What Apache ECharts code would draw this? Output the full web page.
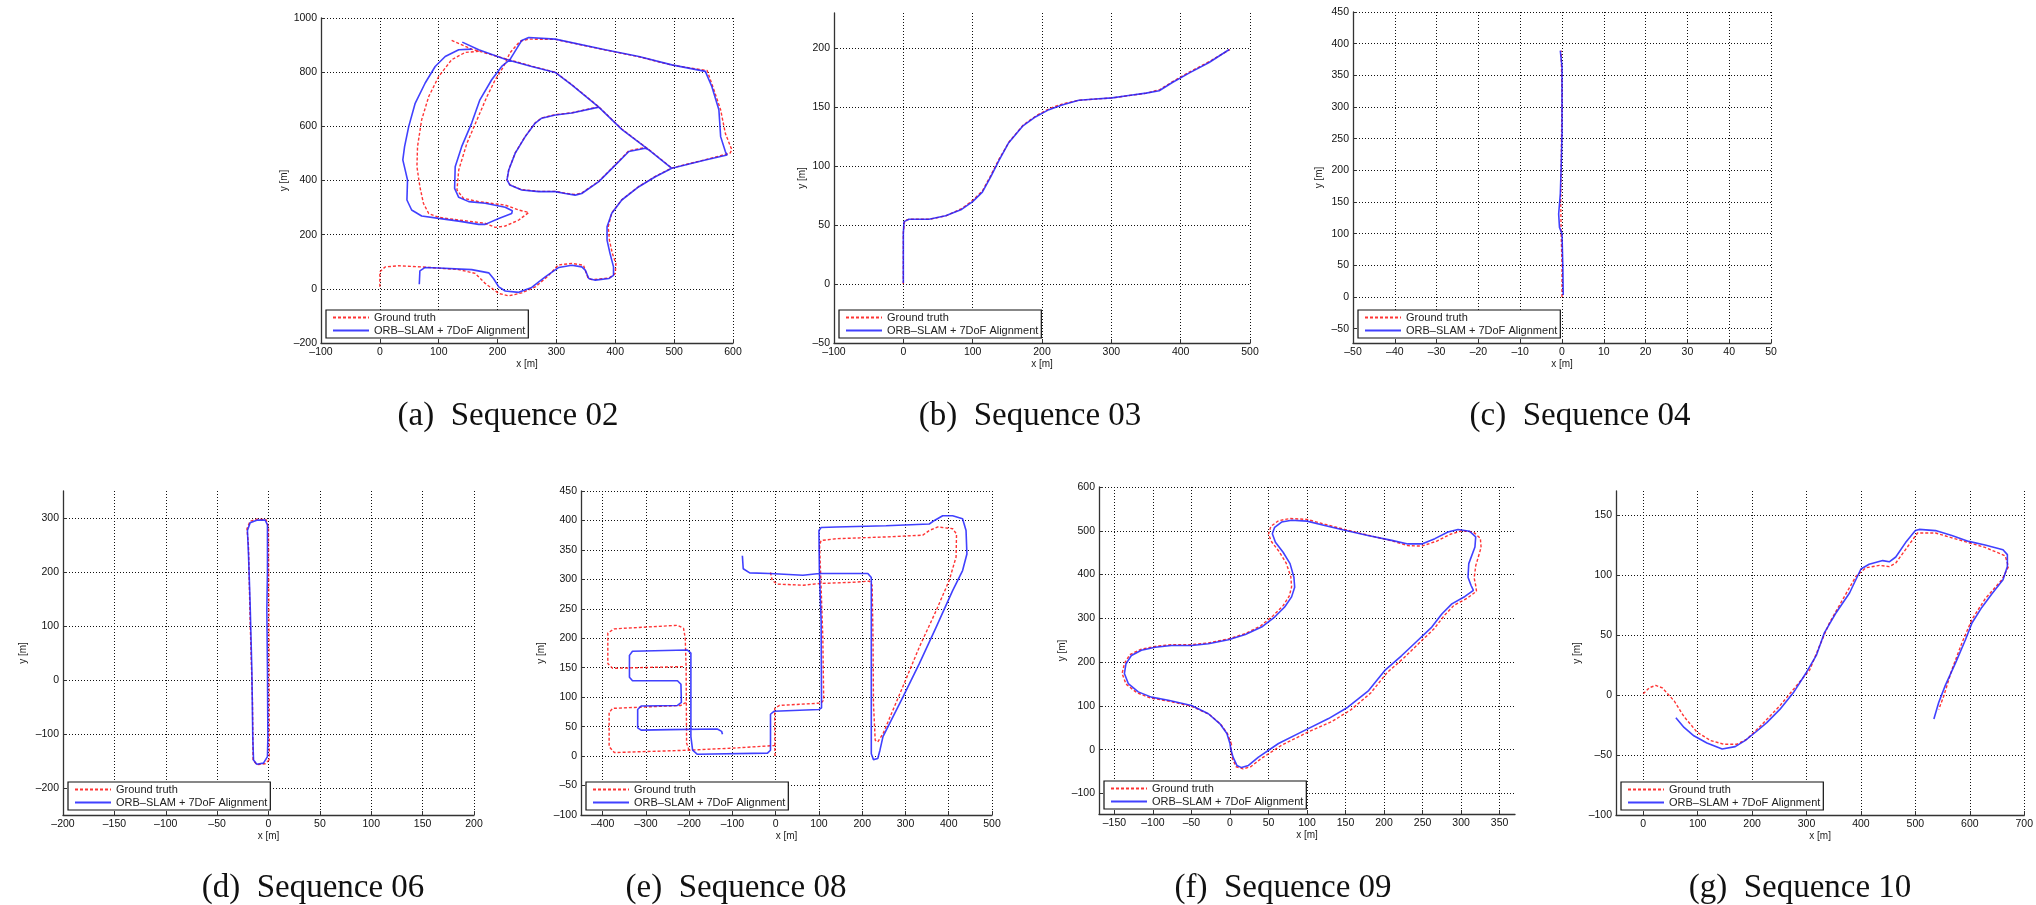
<!DOCTYPE html>
<html>
<head>
<meta charset="utf-8">
<script src="https://cdn.jsdelivr.net/npm/echarts@6/dist/echarts.min.js"></script>
<style>
  html, body { margin: 0; padding: 0; background: #fff; }
  #main { width: 2036px; height: 905px; }
</style>
</head>
<body>
<div id="main"></div>
<script>
// trajectories as [x, y] in metres; null = pen up between strokes
const seq02Truth = [
  [122,917],[156,885],[213,850],[258,822],[298,800],[326,754],[372,672],[411,590],[457,514],[496,446], null,
  [168,877],[145,873],[122,846],[100,784],[83,710],[71,624],[64,525],[63,451],[68,377],[74,316],[83,278],[100,264],
  [134,254],[179,242],[196,227],[213,232],[236,254],[253,282],[236,291],[213,309],[168,322],[142,334],[131,365],
  [134,439],[148,538],[165,624],[182,710],[196,772],[210,820],[221,871],[238,914],[253,922],[298,921],[383,882],
  [440,857],[496,826],[556,806],[566,745],[579,661],[587,574],[598,513],[595,501],[553,477],[496,446],[468,415],
  [440,378],[411,329],[394,280],[388,229],[390,180],[395,131],[401,94],[400,57],[389,40],[360,34],[354,38],
  [346,87],[326,94],[303,88],[287,50],[264,7],[241,-15],[219,-26],[202,-17],[179,20],[162,57],[134,71],[71,81],
  [32,85],[9,81],[0,63],[0,5], null,
  [372,672],[326,650],[298,643],[275,631],[264,613],[247,563],[230,502],[219,440],[216,403],[221,384],[241,366],
  [270,360],[298,360],[315,353],[332,348],[343,354],[372,397],[400,458],[423,510],[451,522],[457,514]
];
const seq02Orb = [
  [140,911],[168,883],[213,848],[258,821],[298,799],[326,753],[372,671],[411,589],[457,513],[496,445], null,
  [156,885],[134,883],[111,858],[94,821],[77,760],[60,685],[49,599],[42,525],[39,476],[43,439],[47,402],[46,328],
  [54,291],[71,269],[100,260],[134,250],[168,238],[179,238],[202,260],[224,278],[225,288],[213,301],[179,316],
  [151,322],[134,338],[127,371],[128,451],[139,525],[156,612],[170,698],[190,772],[207,821],[221,846],[233,889],
  [241,917],[253,928],[298,922],[383,883],[440,858],[496,827],[553,803],[564,747],[576,661],[579,562],[587,507],
  [590,494],[553,476],[496,445],[468,414],[440,377],[411,328],[394,279],[386,229],[386,180],[391,131],[397,81],
  [397,50],[389,38],[366,32],[355,38],[349,69],[343,81],[326,87],[304,79],[281,44],[258,5],[236,-13],[213,-8],
  [202,7],[193,38],[185,59],[156,71],[100,77],[77,79],[68,66],[67,17], null,
  [372,671],[326,649],[298,642],[275,630],[264,612],[247,562],[230,501],[219,439],[216,402],[221,383],[241,365],
  [270,359],[298,359],[315,352],[332,346],[343,352],[372,396],[400,457],[423,507],[451,519],[457,513]
];
const seq03Truth = [
  [0,0],[0,44],[2,54],[9,55],[38,55],[62,58],[84,64],[100,71],[114,79],[126,92],[138,106],[153,121],[173,135],
  [192,143],[211,149],[230,153],[254,156],[278,157],[302,158],[326,160],[351,162],[370,165],[389,172],[413,180],
  [442,189],[471,199]
];
const seq03Orb = [
  [0,1],[0,43],[1,53],[8,55],[37,55],[61,58],[83,63],[100,70],[114,78],[126,91],[138,105],[152,120],[172,134],
  [191,142],[210,148],[229,152],[253,156],[277,157],[301,158],[325,160],[350,162],[369,164],[388,171],[412,179],
  [441,188],[470,199]
];
const seq04Truth = [[0,0],[0,50],[-0.2,100],[-0.3,150],[-0.2,200],[-0.1,260],[0,320],[-0.2,389]];
const seq04Orb = [[0.3,3],[0.2,47],[0,100],[-0.6,110],[-0.8,131],[-0.4,163],[-0.2,205],[0,258],[0,310],[0,363],[-0.4,389]];
const seq06Truth = [
  [0.6,-148],[-3.2,-155],[-11.4,-157],[-15,-148],[-15.6,-40],[-17.9,111],[-19.5,250],[-21,280],[-17.9,294],
  [-11.4,298],[-2.3,297],[0,283],[0.3,142],[0.6,18],[0.8,-140],[0.6,-148]
];
const seq06Orb = [
  [-1,-142],[-4.9,-154],[-11.4,-156],[-14.6,-148],[-15.3,-105],[-16.2,18],[-17.9,142],[-19.5,234],[-20.5,277],
  [-17.9,291],[-11.4,296],[-3.2,296],[-1,287],[-1,203],[-1.6,129],[-1,18],[-0.6,-105],[-1,-142]
];
const seq08Truth = [
  [-1.5,0],[-2,18],[-88,14],[-200,10],[-373,6],[-385,16],[-385,74],[-377,81],[-219,86],[-208,91], null,
  [-200,10],[-206,22],[-207,150],[-209,200],[-213,217],[-227,222],[-373,216],[-388,209],[-388,157],[-377,149],[-211,152], null,
  [-2,18],[-2.3,81],[9,86],[105,90],[111,95],[109,202],[105,287],[101.5,358],[105,366],[140,369],[255,372],[340,375],
  [355,383],[375,389],[409,386],[418,377],[417,338],[401,298],[371,247],[332,185],[294,118],[248,38],[236,24],
  [230,27],[226,89],[225,202],[223,290],[217,297],[178,295],[101.5,293],[63,290],[4,292],[-8,298],[-12,312]
];
const seq08Orb = [
  [-123,37],[-125,42],[-135,46],[-245,45],[-311,44],[-319,48],[-319,79],[-311,85],[-227,86],[-218,91],[-219,122],
  [-227,128],[-331,128],[-338,134],[-338,171],[-331,178],[-204,180],[-196,175],[-196,33],[-192,10],[-181,3],
  [-19,5],[-12,10],[-12,71],[-4,76],[100,79],[106,82],[105,230],[101,315],[100,383],[105,388],[140,389],[255,391],
  [355,394],[367,400],[386,408],[409,408],[432,403],[440,383],[442,343],[432,315],[409,281],[371,219],[332,157],
  [294,100],[248,33],[241,10],[236,-4],[226,-6],[221,4],[221,89],[221,202],[221,303],[213,310],[178,310],[101,310],
  [63,307],[-14,310],[-60,311],[-75,318],[-77,340]
];
const seq09Truth = [
  [2,12],[-3,36],[-12,58],[-27,81],[-50,99],[-80,111],[-103,118],[-121,130],[-135,150],[-140,174],[-137,197],
  [-130,217],[-116,229],[-97,236],[-76,240],[-50,240],[-28,244],[-2,253],[20,265],[40,283],[56,306],[69,329],
  [77,351],[80,372],[79,395],[73,426],[64,452],[54,475],[50,492],[53,510],[63,523],[78,528],[100,526],[123,515],
  [149,503],[179,490],[210,477],[231,466],[249,465],[268,476],[286,492],[301,500],[316,497],[325,483],[326,462],
  [319,420],[317,392],[319,375],[320,362],[308,346],[291,330],[278,306],[265,276],[247,246],[226,210],[204,176],
  [183,130],[157,91],[133,65],[101,40],[67,10],[40,-21],[27,-39],[17,-44],[8,-39],[3,-20],[1,0],[2,12]
];
const seq09Orb = [
  [0,14],[-4,37],[-13,59],[-28,82],[-50,101],[-80,113],[-102,120],[-119,132],[-132,151],[-137,174],[-135,196],
  [-128,215],[-115,227],[-97,234],[-76,238],[-50,238],[-28,242],[-2,251],[20,263],[41,280],[58,303],[71,326],
  [80,349],[84,371],[83,394],[78,425],[69,451],[59,474],[55,493],[58,508],[67,520],[80,524],[100,522],[123,512],
  [149,501],[179,489],[210,478],[231,470],[249,470],[266,482],[283,497],[296,503],[311,499],[319,486],[318,463],
  [310,425],[309,394],[313,375],[316,364],[305,350],[288,333],[275,310],[262,280],[244,250],[223,215],[201,181],
  [180,135],[153,97],[128,71],[97,44],[63,14],[37,-17],[24,-36],[15,-41],[9,-36],[4,-17],[1,2],[0,14]
];
const seq10Truth = [
  [0,1],[11,6],[23,8],[35,6],[57,-5],[75,-18],[99,-31],[124,-38],[148,-41],[172,-41],[190,-37],[215,-26],[251,-9],
  [282,8],[306,21],[324,41],[342,60],[367,80],[391,99],[409,106],[434,108],[452,107],[464,110],[488,125],[504,135],
  [537,135],[567,131],[628,123],[665,116],[671,107],[659,96],[628,80],[604,63],[586,44],[567,21],[552,-1],[543,-12]
];
const seq10Orb = [
  [60,-19],[75,-27],[93,-34],[117,-40],[145,-45],[169,-43],[187,-38],[209,-30],[227,-23],[251,-12],[276,2],
  [300,19],[318,33],[333,52],[355,69],[379,85],[400,105],[415,109],[440,112],[452,111],[464,115],[482,127],
  [500,137],[507,138],[537,137],[567,133],[598,128],[628,125],[661,121],[669,117],[669,107],[661,96],[640,84],
  [622,73],[604,60],[592,46],[574,27],[555,8],[543,-6],[534,-20]
];

// tick values
const ticks02X = [-100,0,100,200,300,400,500,600];
const ticks02Y = [-200,0,200,400,600,800,1000];
const ticks03X = [-100,0,100,200,300,400,500];
const ticks03Y = [-50,0,50,100,150,200];
const ticks04X = [-50,-40,-30,-20,-10,0,10,20,30,40,50];
const ticks04Y = [-50,0,50,100,150,200,250,300,350,400,450];
const ticks06X = [-200,-150,-100,-50,0,50,100,150,200];
const ticks06Y = [-200,-100,0,100,200,300];
const ticks08X = [-400,-300,-200,-100,0,100,200,300,400,500];
const ticks08Y = [-100,-50,0,50,100,150,200,250,300,350,400,450];
const ticks09X = [-150,-100,-50,0,50,100,150,200,250,300,350];
const ticks09Y = [-100,0,100,200,300,400,500,600];
const ticks10X = [0,100,200,300,400,500,600,700];
const ticks10Y = [-100,-50,0,50,100,150];

const captions = ['(a)  Sequence 02', '(b)  Sequence 03', '(c)  Sequence 04', '(d)  Sequence 06',
                  '(e)  Sequence 08', '(f)  Sequence 09', '(g)  Sequence 10'];
const seriesNames = ['Ground truth', 'ORB\u2013SLAM + 7DoF Alignment'];

// layout of each panel: plot rect [left, top, width, height], axis ranges, label offsets
const panels = [
  { truth: seq02Truth, orb: seq02Orb, xT: ticks02X, yT: ticks02Y, xR: [-100, 600], yR: [-200, 1000], rect: [321, 18, 412, 325], yGap: 32, cap: [508, 416] },
  { truth: seq03Truth, orb: seq03Orb, xT: ticks03X, yT: ticks03Y, xR: [-100, 500], yR: [-50, 230], rect: [834, 13, 416, 330], yGap: 27, cap: [1030, 416] },
  { truth: seq04Truth, orb: seq04Orb, xT: ticks04X, yT: ticks04Y, xR: [-50, 50], yR: [-72.6, 450], rect: [1353, 12, 418, 331], yGap: 29, cap: [1580, 416] },
  { truth: seq06Truth, orb: seq06Orb, xT: ticks06X, yT: ticks06Y, xR: [-200, 200], yR: [-250, 350], rect: [63, 491, 411, 324], yGap: 35, cap: [313, 888] },
  { truth: seq08Truth, orb: seq08Orb, xT: ticks08X, yT: ticks08Y, xR: [-450, 500], yR: [-100, 450], rect: [581, 491, 411, 324], yGap: 35, cap: [736, 888] },
  { truth: seq09Truth, orb: seq09Orb, xT: ticks09X, yT: ticks09Y, xR: [-170, 370], yR: [-147, 600], rect: [1099, 487, 416, 327], yGap: 32, cap: [1283, 888] },
  { truth: seq10Truth, orb: seq10Orb, xT: ticks10X, yT: ticks10Y, xR: [-50, 700], yR: [-100, 170], rect: [1616, 491, 412, 324], yGap: 34, cap: [1800, 888] }
];

const chart = echarts.init(document.getElementById('main'));
const labelFont = 'Liberation Sans';

function makeAxis(dim, range, ticks, gap, idx) {
  return {
    type: 'value',
    gridIndex: idx,
    min: range[0],
    max: range[1],
    name: dim + ' [m]',
    nameLocation: 'middle',
    nameGap: gap,
    nameRotate: dim === 'y' ? 90 : 0,
    nameTextStyle: { fontFamily: labelFont, fontSize: 10, color: '#222' },
    axisLine: { show: true, onZero: false, lineStyle: { color: '#333', width: 1.3 } },
    axisTick: { show: true, inside: true, length: 4, customValues: ticks, lineStyle: { color: '#333' } },
    axisLabel: {
      customValues: ticks,
      margin: 4,
      fontFamily: labelFont,
      fontSize: 10.5,
      color: '#111',
      formatter: v => String(v).replace('-', '\u2013')
    },
    splitLine: { show: true, lineStyle: { color: '#111', width: 1, type: [1, 2] } }
  };
}

const option = { animation: false, grid: [], xAxis: [], yAxis: [], series: [], legend: [], graphic: [] };

panels.forEach(function (p, i) {
  option.grid.push({ left: p.rect[0], top: p.rect[1], width: p.rect[2], height: p.rect[3] });
  option.xAxis.push(makeAxis('x', p.xR, p.xT, 16, i));
  option.yAxis.push(makeAxis('y', p.yR, p.yT, p.yGap, i));

  option.series.push({
    type: 'line', name: seriesNames[0], xAxisIndex: i, yAxisIndex: i, data: p.truth,
    symbol: 'none', silent: true, z: 2,
    lineStyle: { color: '#ff1010', width: 1.4, type: [3, 2], opacity: 0.85 },
    itemStyle: { color: '#ff1010' }
  });
  option.series.push({
    type: 'line', name: seriesNames[1], xAxisIndex: i, yAxisIndex: i, data: p.orb,
    symbol: 'none', silent: true, z: 3,
    lineStyle: { color: '#2020ff', width: 1.6, opacity: 0.85 },
    itemStyle: { color: '#2020ff' }
  });

  option.legend.push({
    data: seriesNames,
    orient: 'vertical',
    left: p.rect[0] + 5,
    bottom: 905 - (p.rect[1] + p.rect[3]) + 5,
    backgroundColor: '#fff',
    borderColor: '#111',
    borderWidth: 1.2,
    padding: [2, 3, 2, 6],
    itemWidth: 36,
    itemHeight: 10,
    itemGap: 2,
    selectedMode: false,
    itemStyle: { opacity: 0, borderWidth: 0 },
    textStyle: { fontFamily: labelFont, fontSize: 11, color: '#222' }
  });

  option.graphic.push({
    type: 'text',
    x: p.cap[0],
    y: p.cap[1],
    style: {
      text: captions[i],
      font: '33px "Liberation Serif"',
      fill: '#111',
      textAlign: 'center',
      textVerticalAlign: 'middle'
    }
  });
});

chart.setOption(option);
</script>
</body>
</html>
